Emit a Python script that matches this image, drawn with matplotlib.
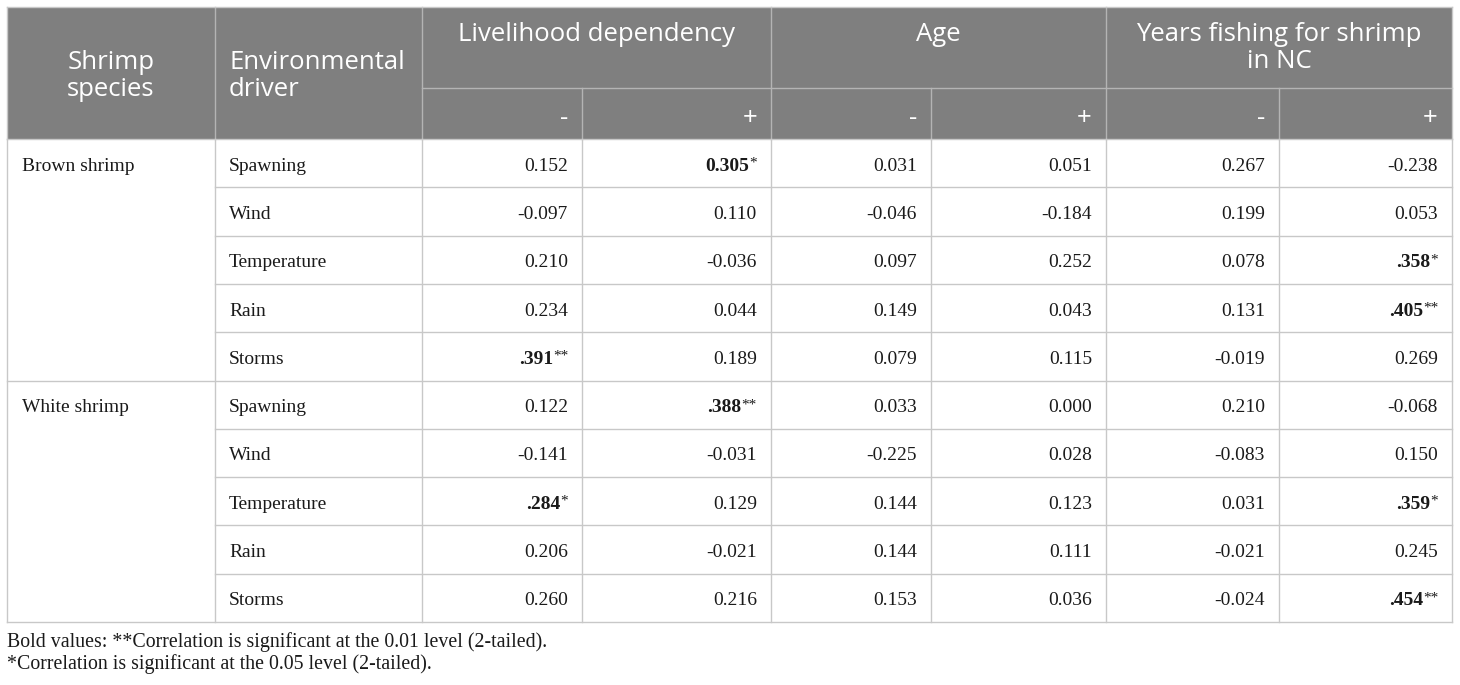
import matplotlib
matplotlib.use("Agg")
import matplotlib.pyplot as plt
from matplotlib.patches import Rectangle

# ---------------- data ----------------
species = ["Brown shrimp", "White shrimp"]
drivers = ["Spawning", "Wind", "Temperature", "Rain", "Storms"]
groups = ["Livelihood dependency", "Age", "Years fishing for shrimp\nin NC"]
signs = ["-", "+"]

brown_values = [
    ["0.152", "0.305*", "0.031", "0.051", "0.267", "-0.238"],
    ["-0.097", "0.110", "-0.046", "-0.184", "0.199", "0.053"],
    ["0.210", "-0.036", "0.097", "0.252", "0.078", ".358*"],
    ["0.234", "0.044", "0.149", "0.043", "0.131", ".405**"],
    [".391**", "0.189", "0.079", "0.115", "-0.019", "0.269"],
]
white_values = [
    ["0.122", ".388**", "0.033", "0.000", "0.210", "-0.068"],
    ["-0.141", "-0.031", "-0.225", "0.028", "-0.083", "0.150"],
    [".284*", "0.129", "0.144", "0.123", "0.031", ".359*"],
    ["0.206", "-0.021", "0.144", "0.111", "-0.021", "0.245"],
    ["0.260", "0.216", "0.153", "0.036", "-0.024", ".454**"],
]
footnotes = [
    "Bold values: **Correlation is significant at the 0.01 level (2-tailed).",
    "*Correlation is significant at the 0.05 level (2-tailed).",
]

# ---------------- layout ----------------
W, H = 1460, 685
col_x = [7, 215, 422, 582, 771, 931, 1106, 1279, 1452]
top, hdr_mid, hdr_bot = 7, 88, 139
row_h = 48.3
n_rows = len(species) * len(drivers)
row_y = [hdr_bot + i * row_h for i in range(n_rows + 1)]

HDR_BG = "#7f7f7f"
HDR_LINE = "#b4b4b4"
GRID = "#c8c8c8"
TXT = "#1a1a1a"
SANS = ["Open Sans", "DejaVu Sans"]
SERIF = ["Liberation Serif", "DejaVu Serif"]
hdr_fs = 18.5
cell_fs = 14
foot_fs = 14.3

fig = plt.figure(figsize=(W / 100, H / 100), dpi=100)
ax = fig.add_axes([0, 0, 1, 1])
ax.set_xlim(0, W)
ax.set_ylim(H, 0)
ax.axis("off")
renderer = fig.canvas.get_renderer()

# header background
ax.add_patch(Rectangle((col_x[0], top), col_x[-1] - col_x[0], hdr_bot - top,
                       facecolor=HDR_BG, edgecolor="none", zorder=1))

lw = 1.0
for x in col_x[1:-1]:
    if x in (col_x[3], col_x[5], col_x[7]):
        ax.plot([x, x], [hdr_mid, hdr_bot], color=HDR_LINE, lw=lw, zorder=2)
    else:
        ax.plot([x, x], [top, hdr_bot], color=HDR_LINE, lw=lw, zorder=2)
ax.plot([col_x[2], col_x[-1]], [hdr_mid, hdr_mid], color=HDR_LINE, lw=lw, zorder=2)

for i, y in enumerate(row_y):
    x0 = col_x[0] if i in (0, len(drivers), n_rows) else col_x[1]
    ax.plot([x0, col_x[-1]], [y, y], color=GRID, lw=lw, zorder=2)
for x in col_x:
    ax.plot([x, x], [row_y[0], row_y[-1]], color=GRID, lw=lw, zorder=2)
ax.plot([col_x[0], col_x[-1]], [top, top], color=GRID, lw=lw, zorder=2)
ax.plot([col_x[0], col_x[0]], [top, hdr_bot], color=GRID, lw=lw, zorder=2)
ax.plot([col_x[-1], col_x[-1]], [top, hdr_bot], color=GRID, lw=lw, zorder=2)

# header texts
ls = 1.12
ax.text((col_x[0] + col_x[1]) / 2, 76, "Shrimp\nspecies",
        ha="center", va="center", color="white", fontsize=hdr_fs, family=SANS,
        linespacing=ls)
ax.text(col_x[1] + 14, 76, "Environmental\ndriver",
        ha="left", va="center", color="white", fontsize=hdr_fs, family=SANS,
        linespacing=ls)
for g, name in enumerate(groups):
    xa, xb = col_x[2 + 2 * g], col_x[4 + 2 * g]
    ax.text((xa + xb) / 2, 22, name, ha="center", va="top", color="white",
            fontsize=hdr_fs, family=SANS, linespacing=ls)
    for s, sg in enumerate(signs):
        xr = col_x[3 + 2 * g + s] - 14
        ax.text(xr, 118, sg, ha="right", va="center",
                color="white", fontsize=hdr_fs, family=SANS)

# body texts
all_values = [brown_values, white_values]
r = 0
dy = 3
for si, sp in enumerate(species):
    ax.text(col_x[0] + 15, row_y[r] + row_h / 2 + dy, sp, ha="left", va="center",
            fontsize=cell_fs, family=SERIF, color=TXT)
    for di, dr in enumerate(drivers):
        yc = row_y[r] + row_h / 2 + dy
        ax.text(col_x[1] + 14, yc, dr, ha="left", va="center",
                fontsize=cell_fs, family=SERIF, color=TXT)
        for c, val in enumerate(all_values[si][di]):
            xr = col_x[3 + c] - 14
            if "*" in val:
                num = val.rstrip("*")
                stars = val[len(num):]
                t = ax.text(xr, yc - 3, stars, ha="right", va="center",
                            fontsize=cell_fs - 3, family=SERIF, color=TXT)
                sw = t.get_window_extent(renderer).width
                ax.text(xr - sw, yc, num, ha="right", va="center",
                        fontsize=cell_fs, family=SERIF, weight="bold", color=TXT)
            else:
                ax.text(xr, yc, val, ha="right", va="center",
                        fontsize=cell_fs, family=SERIF, color=TXT)
        r += 1

for k, fn in enumerate(footnotes):
    ax.text(col_x[0], 642 + 22 * k, fn, ha="left", va="center",
            fontsize=foot_fs, family=SERIF, color=TXT)

fig.savefig("out.png", dpi=100)
